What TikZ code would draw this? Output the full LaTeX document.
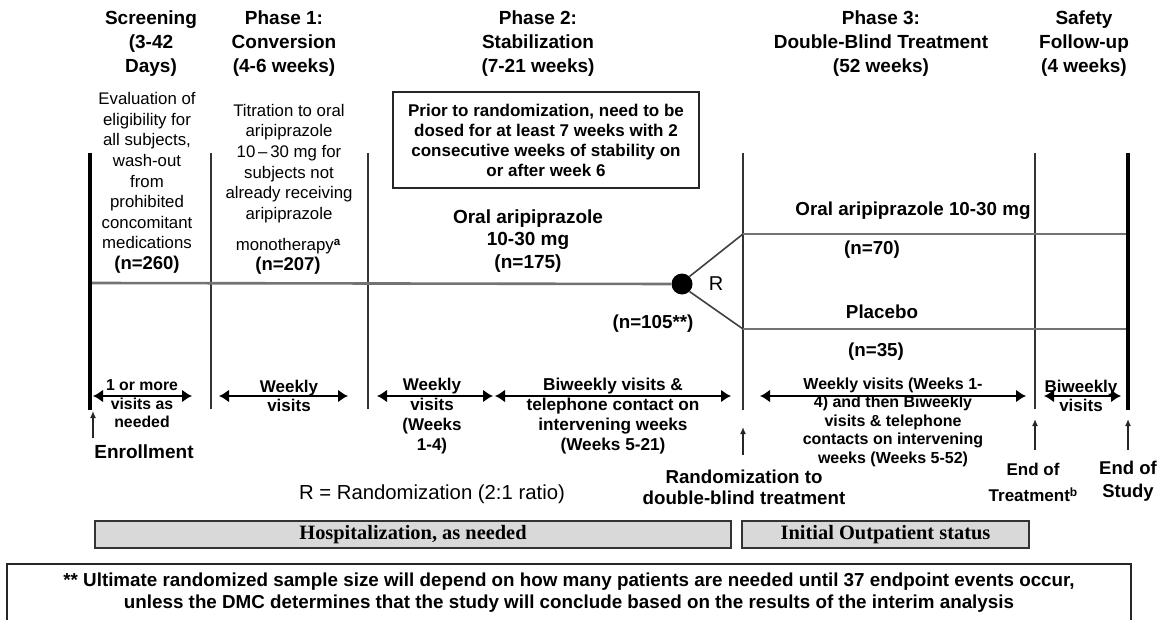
\documentclass[tikz,border=0pt]{standalone}
\usepackage{fontspec}
\setmainfont{Liberation Sans}
\newfontfamily\serifbold{Liberation Serif}
\usetikzlibrary{arrows.meta}
\newcommand\fsz[2]{\fontsize{#1}{#2}\selectfont}
\tikzset{
  hdr/.style={font=\bfseries\fsz{19}{24}, align=center, inner sep=0pt},
  desc/.style={font=\fsz{16.8}{20.6}, align=center, inner sep=0pt},
  bigb/.style={font=\bfseries\fsz{18.8}{22.5}, align=center, inner sep=0pt},
  lbl/.style={font=\bfseries\fsz{15.8}{18.5}, align=center, inner sep=0pt},
  divider/.style={draw=black!80, line width=1.5pt},
  thickdiv/.style={draw=black, line width=4pt},
  track/.style={draw=black!55, line width=2.6pt},
  branch/.style={draw=black!75, line width=1.6pt},
  visit/.style={{Latex[length=10pt,width=13pt]}-{Latex[length=10pt,width=13pt]}, line width=2.2pt, draw=black},
  uparrow/.style={-{Latex[length=7pt,width=6pt]}, line width=1.4pt, draw=black!85},
  graybox/.style={draw=black!80, line width=1.4pt, fill=black!15, inner sep=0pt,
     font=\serifbold\bfseries\fsz{20.4}{22}},
}
\begin{document}
\begin{tikzpicture}[x=1pt,y=-1pt]
\useasboundingbox (0,0) rectangle (1161,620);
\fill[white] (0,0) rectangle (1161,620);

% ---- headers
\node[hdr] (hscr) at (151,44) {Screening\\(3-42\\Days)};
\node[hdr] (hp1) at (284,44) {Phase 1:\\Conversion\\(4-6 weeks)};
\node[hdr] (hp2) at (538,44) {Phase 2:\\Stabilization\\(7-21 weeks)};
\node[hdr] (hp3) at (881,44) {Phase 3:\\Double-Blind Treatment\\(52 weeks)};
\node[hdr] (hsf) at (1084,44) {Safety\\Follow-up\\(4 weeks)};

% ---- descriptions
\node[desc] (dscr) at (147,183) {Evaluation of\\eligibility for\\all subjects,\\wash-out\\from\\prohibited\\concomitant\\medications\\{\bfseries\fsz{18.5}{20.6}(n=260)}};
\node[desc] (dp1a) at (289,163.5) {Titration to oral\\aripiprazole\\10\,–\,30 mg for\\subjects not\\already receiving\\aripiprazole};
\node[desc] (dp1b) at (288,256) {monotherapy\raisebox{5pt}{\bfseries\fsz{11.5}{11}a}\\[-0.5pt]{\bfseries\fsz{18.5}{21}(n=207)}};
\node[draw=black!85, line width=1.4pt, minimum width=306pt, minimum height=96pt, inner sep=0pt,
      font=\bfseries\fsz{17}{20}, align=center] (pbox) at (546,140)
      {Prior to randomization, need to be\\dosed for at least 7 weeks with 2\\consecutive weeks of stability on\\or after week 6};
\node[bigb, font=\bfseries\fsz{19}{22.5}] (oral2) at (528,241) {Oral aripiprazole\\10-30 mg\\(n=175)};

% ---- vertical dividers
\coordinate (v0t) at (90,153);   \coordinate (v0b) at (90,410);
\coordinate (v1t) at (211,153);  \coordinate (v1b) at (211,409);
\coordinate (v2t) at (368,153);  \coordinate (v2b) at (368,409);
\coordinate (v3t) at (743,153);  \coordinate (v3b) at (743,410);
\coordinate (v4t) at (1035,153); \coordinate (v4b) at (1035,409);
\coordinate (v5t) at (1128,153); \coordinate (v5b) at (1128,410);
\draw[thickdiv] (v0t) -- (v0b);
\draw[divider] (v1t) -- (v1b);
\draw[divider] (v2t) -- (v2b);
\draw[divider] (v3t) -- (v3b);
\draw[divider] (v4t) -- (v4b);
\draw[thickdiv] (v5t) -- (v5b);

% ---- treatment track
\coordinate (tstart) at (92,283);
\node[circle, fill=black, minimum size=21pt, inner sep=0pt] (dot) at (682,284) {};
\node[font=\fsz{20}{22}, inner sep=0pt] (rlab) at (716,284) {R};
\draw[track] (tstart) -- (dot.west);
\coordinate (jup) at (743,234);
\coordinate (jlo) at (743,329);
\coordinate (eup) at (1126,234);
\coordinate (elo) at (1126,329);
\draw[branch] (dot.north east) -- (jup);
\draw[branch] (dot.south east) -- (jlo);
\draw[track] (jup) -- (eup);
\draw[track] (jlo) -- (elo);
\node[bigb] (oral3) at (913,211) {Oral aripiprazole 10-30 mg};
\node[bigb] (n70) at (872,250) {(n=70)};
\node[bigb] (plac) at (882,312) {Placebo};
\node[bigb] (n35) at (876,352) {(n=35)};
\node[bigb] (n105) at (653,324) {(n=105**)};

% ---- visit arrows
\coordinate (a0l) at (93,396);  \coordinate (a0r) at (192,396);
\coordinate (a1l) at (219,396); \coordinate (a1r) at (348,396);
\coordinate (a2l) at (377,396); \coordinate (a2r) at (493,396);
\coordinate (a3l) at (495,396); \coordinate (a3r) at (731,396);
\coordinate (a4l) at (760,396); \coordinate (a4r) at (1026,396);
\coordinate (a5l) at (1044,396);\coordinate (a5r) at (1121,396);
\draw[visit] (a0l) -- (a0r);
\draw[visit] (a1l) -- (a1r);
\draw[visit] (a2l) -- (a2r);
\draw[visit] (a3l) -- (a3r);
\draw[visit] (a4l) -- (a4r);
\draw[visit] (a5l) -- (a5r);
\node[lbl] (l0) at (142,404) {1 or more\\visits as\\needed};
\node[lbl, font=\bfseries\fsz{17}{19}] (l1) at (289,396) {Weekly\\visits};
\node[lbl, font=\bfseries\fsz{17}{20}] (l2) at (432,416) {Weekly\\visits\\(Weeks\\1-4)};
\node[lbl, font=\bfseries\fsz{17.2}{20}] (l3) at (613,416) {Biweekly visits \&\\telephone contact on\\intervening weeks\\(Weeks 5-21)};
\node[lbl, font=\bfseries\fsz{16}{18.5}] (l4) at (893,422) {Weekly visits (Weeks 1-\\4) and then Biweekly\\visits \& telephone\\contacts on intervening\\weeks (Weeks 5-52)};
\node[lbl, font=\bfseries\fsz{17}{19}] (l5) at (1081,396) {Biweekly\\visits};

% ---- milestone arrows
\coordinate (u0b) at (93,438);   \coordinate (u0t) at (93,411);
\coordinate (u1b) at (743,455);  \coordinate (u1t) at (743,427);
\coordinate (u2b) at (1035,450); \coordinate (u2t) at (1035,419);
\coordinate (u3b) at (1128,450); \coordinate (u3t) at (1128,419);
\draw[uparrow] (u0b) -- (u0t);
\draw[uparrow] (u1b) -- (u1t);
\draw[uparrow] (u2b) -- (u2t);
\draw[uparrow] (u3b) -- (u3t);
\node[bigb, font=\bfseries\fsz{19}{22}] (enr) at (144,452) {Enrollment};
\node[bigb, font=\bfseries\fsz{18.7}{21}] (rand) at (744,487) {Randomization to\\double-blind treatment};
\node[bigb, font=\bfseries\fsz{17}{26}] (eot) at (1033,482) {End of\\Treatment\raisebox{5pt}{\fsz{12}{12}b}};
\node[bigb, font=\bfseries\fsz{18.5}{23}] (eos) at (1128,481) {End of\\Study};
\node[font=\fsz{20.3}{22}, inner sep=0pt] (rkey) at (432,494) {R = Randomization (2:1 ratio)};

% ---- status boxes
\node[graybox, minimum width=636pt, minimum height=27pt] (hosp) at (413,534.5) {Hospitalization, as needed};
\node[graybox, minimum width=287pt, minimum height=27pt] (outp) at (885.5,534.5) {Initial Outpatient status};

% ---- footnote box
\draw[draw=black!85, line width=1.6pt] (7,625) |- (1131,564) -- (1131,625);
\node[font=\bfseries\fsz{18.8}{22}, align=center, inner sep=0pt] (fn) at (569,593)
  {** Ultimate randomized sample size will depend on how many patients are needed until 37 endpoint events occur,\\unless the DMC determines that the study will conclude based on the results of the interim analysis};
\end{tikzpicture}
\end{document}
